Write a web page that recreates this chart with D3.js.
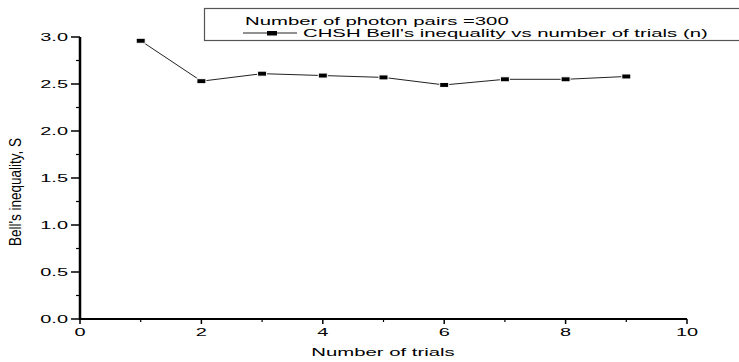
<!DOCTYPE html>
<html>
<head>
<meta charset="utf-8">
<script src="https://cdn.jsdelivr.net/npm/d3@7"></script>
<style>
  body { margin: 0; background: #fff; }
  text { font-family: "Liberation Sans", Arial, sans-serif; fill: #000; }
</style>
</head>
<body>
<script>
// data
var trials = [1, 2, 3, 4, 5, 6, 7, 8, 9];
var bellS = [2.96, 2.53, 2.61, 2.59, 2.57, 2.49, 2.55, 2.55, 2.58];
var xTicks = [0, 2, 4, 6, 8, 10];
var yTicks = [0.0, 0.5, 1.0, 1.5, 2.0, 2.5, 3.0];
var legendTitle = "Number of photon pairs =300";
var seriesName = "CHSH Bell's inequality vs number of trials (n)";

var w = 739, h = 362;
var sx = 1.9; // the original is stretched sideways, so text is too

var svg = d3.select("body").append("svg")
    .attr("width", w)
    .attr("height", h);

var x = d3.scaleLinear().domain([0, 10]).range([80, 687]);
var y = d3.scaleLinear().domain([0, 3]).range([319, 37]);

// minor ticks
svg.selectAll(".xminor")
    .data(d3.range(1, 10, 2))
    .enter().append("line")
    .attr("x1", d => x(d)).attr("x2", d => x(d))
    .attr("y1", y(0)).attr("y2", y(0) + 3)
    .attr("stroke", "#000").attr("stroke-width", 1.2);

svg.selectAll(".yminor")
    .data(d3.range(0.25, 3, 0.5))
    .enter().append("line")
    .attr("x1", x(0) - 4).attr("x2", x(0))
    .attr("y1", d => y(d)).attr("y2", d => y(d))
    .attr("stroke", "#000").attr("stroke-width", 1.2);

// major ticks
svg.selectAll(".xmajor")
    .data(xTicks)
    .enter().append("line")
    .attr("x1", d => x(d)).attr("x2", d => x(d))
    .attr("y1", y(0)).attr("y2", y(0) + 5)
    .attr("stroke", "#000").attr("stroke-width", 1.5);

svg.selectAll(".ymajor")
    .data(yTicks)
    .enter().append("line")
    .attr("x1", x(0) - 9).attr("x2", x(0))
    .attr("y1", d => y(d)).attr("y2", d => y(d))
    .attr("stroke", "#000").attr("stroke-width", 1.5);

// axis lines
svg.append("line")
    .attr("x1", x(0)).attr("x2", x(10))
    .attr("y1", y(0)).attr("y2", y(0))
    .attr("stroke", "#000").attr("stroke-width", 2);
svg.append("line")
    .attr("x1", x(0)).attr("x2", x(0))
    .attr("y1", y(0) + 1).attr("y2", y(3))
    .attr("stroke", "#000").attr("stroke-width", 2.5);

// tick labels
svg.selectAll(".xlab")
    .data(xTicks)
    .enter().append("text")
    .attr("transform", d => "translate(" + x(d) + ",336) scale(" + sx + ",1)")
    .attr("text-anchor", "middle")
    .attr("font-size", "10.5px")
    .text(d => d);

svg.selectAll(".ylab")
    .data(yTicks)
    .enter().append("text")
    .attr("transform", d => "translate(68," + (y(d) + 4) + ") scale(" + sx + ",1)")
    .attr("text-anchor", "end")
    .attr("font-size", "10.5px")
    .text(d => d3.format(".1f")(d));

// axis titles
svg.append("text")
    .attr("transform", "translate(383,356) scale(" + sx + ",1)")
    .attr("text-anchor", "middle")
    .attr("font-size", "10.7px")
    .text("Number of trials");

svg.append("text")
    .attr("transform", "translate(21,192) scale(1.25,1) rotate(-90)")
    .attr("text-anchor", "middle")
    .attr("font-size", "13.5px")
    .text("Bell's inequality, S");

// series
var line = d3.line()
    .x((d, i) => x(trials[i]))
    .y(d => y(d));

svg.append("path")
    .datum(bellS)
    .attr("d", line)
    .attr("fill", "none")
    .attr("stroke", "#222")
    .attr("stroke-width", 1);

svg.selectAll(".pt")
    .data(bellS)
    .enter().append("rect")
    .attr("x", (d, i) => x(trials[i]) - 4.5)
    .attr("y", d => y(d) - 2.5)
    .attr("width", 9)
    .attr("height", 5)
    .attr("fill", "#000")
    .attr("stroke", "#fff")
    .attr("stroke-width", 1);

// legend
var lg = svg.append("g");
lg.append("rect")
    .attr("x", 204.5).attr("y", 8.5)
    .attr("width", 560).attr("height", 32)
    .attr("fill", "#fff")
    .attr("stroke", "#555")
    .attr("stroke-width", 1.2);
lg.append("text")
    .attr("transform", "translate(245,25) scale(" + sx + ",1)")
    .attr("font-size", "10.7px")
    .text(legendTitle);
lg.append("line")
    .attr("x1", 243).attr("x2", 297)
    .attr("y1", 33).attr("y2", 33)
    .attr("stroke", "#222").attr("stroke-width", 1);
lg.append("rect")
    .attr("x", 267).attr("y", 31)
    .attr("width", 10).attr("height", 4.5)
    .attr("fill", "#000");
lg.append("text")
    .attr("transform", "translate(303,37) scale(" + sx + ",1)")
    .attr("font-size", "10.7px")
    .text(seriesName);
</script>
</body>
</html>
